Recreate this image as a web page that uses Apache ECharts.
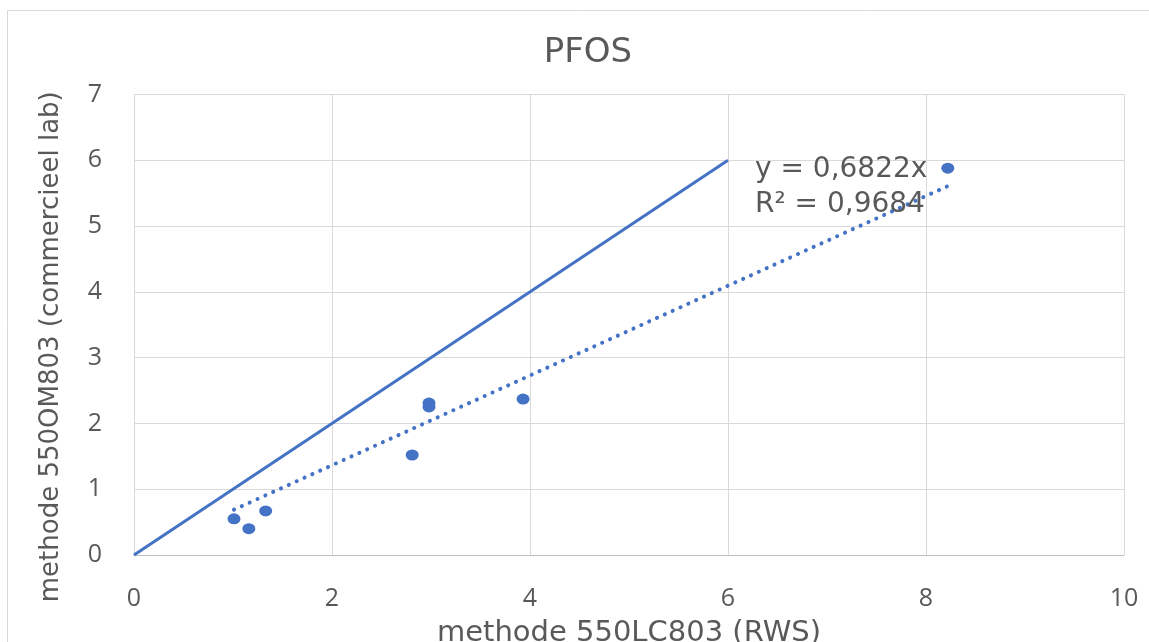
<!DOCTYPE html>
<html><head><meta charset="utf-8">
<script src="https://cdn.jsdelivr.net/npm/echarts@6/dist/echarts.min.js"></script>
<style>html,body{margin:0;padding:0;background:#fff}#c{width:1149px;height:642px}</style>
</head><body><div id="c"></div>
<script>
// Data
const measX = [1.01, 1.16, 1.33, 2.81, 2.98, 2.98, 3.93, 8.22];
const measY = [0.55, 0.40, 0.67, 1.52, 2.31, 2.25, 2.37, 5.88];
const identityX = [0, 6];
const trendSlope = 0.6822;
const trendR2 = '0,9684';
const xTicks = [0, 2, 4, 6, 8, 10];
const yTicks = [0, 1, 2, 3, 4, 5, 6, 7];

const FONT = '"Open Sans", "Noto Sans", sans-serif';
const WIDE = '"DejaVu Sans", sans-serif';
const GRAY = '#595959';
const BLUE = '#4472C4';

const points = measX.map((x, i) => [x, measY[i]]);
const idLine = identityX.map(x => [x, x]);
const tx0 = Math.min(...measX), tx1 = Math.max(...measX);
const trend = [[tx0, trendSlope * tx0], [tx1, trendSlope * tx1]];

const chart = echarts.init(document.getElementById('c'), null, {renderer: 'canvas'});
chart.setOption({
  animation: false,
  backgroundColor: '#fff',
  title: {
    text: 'PFOS', left: 583, top: 31, textAlign: 'center',
    textStyle: {fontFamily: WIDE, fontSize: 34, fontWeight: 'normal', color: GRAY}
  },
  graphic: [
    {type: 'rect', shape: {x: 7.5, y: 10.5, width: 1300, height: 800},
     style: {fill: 'none', stroke: '#d9d9d9', lineWidth: 1}, silent: true, z: -1},
    {type: 'text', left: 755, top: 152,
     style: {text: 'y = 0,' + String(trendSlope).split('.')[1] + 'x\nR² = ' + trendR2,
             font: '28px ' + WIDE, fill: GRAY, lineHeight: 35}, z: 10}
  ],
  grid: {left: 134, right: 25, top: 94.5, bottom: 87, containLabel: false, outerBoundsMode: 'none'},
  xAxis: {
    type: 'value', min: xTicks[0], max: xTicks[xTicks.length - 1], interval: 2,
    name: 'methode 550LC803 (RWS)', nameLocation: 'middle', nameGap: 64,
    nameTextStyle: {fontFamily: WIDE, fontSize: 29, color: GRAY},
    axisLine: {show: true, lineStyle: {color: '#bfbfbf', width: 1}},
    axisTick: {show: false},
    axisLabel: {fontFamily: FONT, fontSize: 25, color: GRAY, margin: 31},
    splitLine: {show: true, lineStyle: {color: '#d9d9d9', width: 1}}
  },
  yAxis: {
    type: 'value', min: yTicks[0], max: yTicks[yTicks.length - 1], interval: 1,
    name: 'methode 550OM803 (commercieel lab)', nameLocation: 'middle', nameGap: 70,
    nameTextStyle: {fontFamily: WIDE, fontSize: 26, color: GRAY, padding: [0, 44, 0, 0]},
    axisLine: {show: false},
    axisTick: {show: false},
    axisLabel: {fontFamily: FONT, fontSize: 25, color: GRAY, margin: 32},
    splitLine: {show: true, lineStyle: {color: '#d9d9d9', width: 1}}
  },
  series: [
    {type: 'line', data: idLine, symbol: 'none', lineStyle: {color: BLUE, width: 3}, z: 3},
    {type: 'line', data: trend, symbol: 'none',
     lineStyle: {color: BLUE, width: 4, type: [0.1, 8.5], cap: 'round'}, z: 3},
    {type: 'scatter', data: points, symbol: 'circle', symbolSize: [13, 11],
     itemStyle: {color: BLUE, opacity: 1}, z: 4}
  ]
});
</script></body></html>
